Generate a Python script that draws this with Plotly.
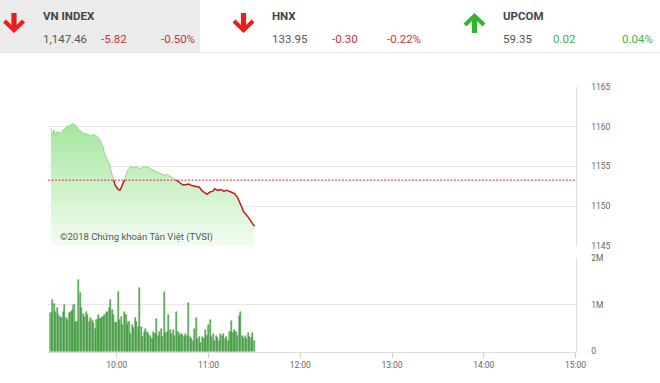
import plotly.graph_objects as go
import pandas as pd
import numpy as np

# ---------------- data ----------------
DAY = "2018-01-02 "
index_names = ["VN INDEX", "HNX", "UPCOM"]
index_values = ["1,147.46", "133.95", "59.35"]
index_changes = ["-5.82", "-0.30", "0.02"]
index_pcts = ["-0.50%", "-0.22%", "0.04%"]
index_up = [False, False, True]

last_value = 1147.46
change = -5.82
prev_close = round(last_value - change, 2)  # reference line

price_times = ["09:17", "09:18", "09:19", "09:20", "09:21", "09:23", "09:25", "09:27", "09:30", "09:31",
               "09:33", "09:34", "09:36", "09:38", "09:40", "09:43", "09:45", "09:47", "09:49", "09:51",
               "09:52", "09:55", "09:57", "09:58", "09:59", "10:01", "10:02", "10:03", "10:05", "10:07",
               "10:09", "10:11", "10:13", "10:15", "10:18", "10:20", "10:22", "10:24", "10:26", "10:29",
               "10:31", "10:33", "10:35", "10:37", "10:39", "10:41", "10:43", "10:45", "10:47", "10:49",
               "10:52", "10:54", "10:56", "10:58", "10:59", "11:01", "11:03", "11:04", "11:06", "11:08",
               "11:10", "11:12", "11:15", "11:17", "11:19", "11:20", "11:21", "11:23", "11:26", "11:28",
               "11:30"]
price_values = [1159.8, 1158.9, 1159.6, 1158.9, 1159.4, 1159.2, 1159.6, 1160.0, 1160.2, 1160.4,
                1160.2, 1159.9, 1159.5, 1159.2, 1159.1, 1158.9, 1159.0, 1158.8, 1158.3, 1157.5,
                1156.6, 1155.4, 1153.9, 1153.28, 1152.6, 1152.1, 1152.0, 1152.4, 1153.28, 1154.5,
                1155.0, 1154.9, 1155.0, 1154.7, 1155.0, 1154.9, 1154.7, 1154.5, 1154.3, 1154.0,
                1153.9, 1154.0, 1153.8, 1153.5, 1153.28, 1153.0, 1152.7, 1152.7, 1152.8, 1152.6,
                1152.5, 1152.4, 1151.9, 1151.6, 1151.5, 1151.8, 1151.9, 1152.2, 1152.0, 1152.1,
                1151.9, 1152.0, 1151.8, 1151.6, 1151.1, 1150.7, 1150.3, 1149.3, 1148.6, 1148.0,
                1147.46]

volume_start = "09:17"
volume_millions = [0.82, 1.11, 1.02, 0.85, 0.93, 0.78, 0.74, 0.71, 0.85, 1.00, 0.72,
                   0.67, 0.82, 0.85, 0.89, 1.00, 0.64, 0.64, 1.53, 1.26, 0.93, 0.80,
                   0.74, 0.85, 0.78, 0.64, 0.71, 0.67, 0.60, 0.49, 0.67, 0.78, 0.70,
                   0.71, 0.74, 0.78, 0.82, 0.85, 0.93, 1.11, 0.89, 0.78, 0.64, 0.60,
                   1.27, 0.67, 0.74, 0.56, 0.85, 0.78, 0.56, 0.64, 0.38, 0.56, 0.50,
                   0.71, 0.64, 0.53, 1.36, 0.53, 0.31, 0.42, 0.49, 0.42, 0.38,
                   0.34, 0.27, 0.42, 0.38, 0.69, 0.34, 0.42, 0.49, 0.31, 1.27, 0.40,
                   0.42, 0.78, 0.45, 0.38, 0.45, 0.34, 0.85, 0.42, 0.34, 0.38, 0.35,
                   0.32, 0.38, 0.34, 1.04, 0.31, 0.27, 0.23, 0.49, 0.71, 0.27, 0.30,
                   0.18, 0.31, 0.27, 0.45, 0.34, 0.56, 0.67, 0.31, 0.38, 0.23, 0.33,
                   0.29, 0.23, 0.38, 0.34, 0.38, 0.27, 0.32, 0.23, 0.42, 0.66, 0.40,
                   0.45, 0.42, 0.34, 0.76, 0.85, 0.34, 0.29, 0.34, 0.27, 0.39, 0.31,
                   0.29, 0.39, 0.23]

session_start, session_end = "09:15", "15:00"
hour_ticks = ["10:00", "11:00", "12:00", "13:00", "14:00", "15:00"]
price_ticks = [1145, 1150, 1155, 1160, 1165]
volume_ticks = [0, 1e6, 2e6]
volume_ticktext = ["0", "1M", "2M"]
watermark = "©2018 Chứng khoán Tân Việt (TVSI)"

# ---------------- helpers ----------------
W, H = 660, 383
def px(x):
    return x / W
def py(y):
    return 1 - y / H

pt = pd.to_datetime([DAY + t for t in price_times])
pv = np.array(price_values)
vt = pd.date_range(DAY + volume_start, periods=len(volume_millions), freq="min")
vv = np.array(volume_millions) * 1e6

red_y = np.where(pv <= prev_close + 0.01, pv, np.nan)

fig = go.Figure()

fig.add_trace(go.Scatter(
    x=pt, y=pv, mode="lines", fill="tozeroy",
    line=dict(color="#92d98c", width=1),
    fillgradient=dict(type="vertical", start=1145, stop=1160.5,
                      colorscale=[[0, "#f3fcf2"], [1, "#a3e69c"]]),
    xaxis="x", yaxis="y", hoverinfo="skip", showlegend=False))

fig.add_trace(go.Scatter(
    x=pt, y=red_y, mode="lines", connectgaps=False,
    line=dict(color="#c81e1e", width=1.5),
    xaxis="x", yaxis="y", hoverinfo="skip", showlegend=False))

fig.add_trace(go.Bar(
    x=vt, y=vv, width=45000,
    marker=dict(color="#7cc87a", line=dict(color="#1f7d1f", width=0.5)),
    xaxis="x2", yaxis="y2", showlegend=False))

x_range = [DAY + session_start, DAY + session_end]

fig.add_shape(type="line", xref="x", yref="y", x0=x_range[0], x1=x_range[1],
              y0=prev_close, y1=prev_close,
              line=dict(color="#d33a3a", width=1, dash="2px,1.5px"))

# header
shapes = []
shapes.append(dict(type="rect", xref="paper", yref="paper", x0=px(0), x1=px(200),
                   y0=py(52), y1=py(0), fillcolor="#ebebeb", line=dict(width=0), layer="below"))
shapes.append(dict(type="line", xref="paper", yref="paper", x0=px(0), x1=px(660),
                   y0=py(52.5), y1=py(52.5), line=dict(color="#e2e2e2", width=1)))

def arrow_path(cx, up):
    pts = [(0, 33), (11, 22.5), (8, 19.5), (2.6, 25), (2.6, 13), (-2.6, 13), (-2.6, 25),
           (-8, 19.5), (-11, 22.5)]
    if up:
        pts = [(dx, 46 - dy) for dx, dy in pts]
    return "M " + " L ".join(f"{px(cx + dx):.5f},{py(dy):.5f}" for dx, dy in pts) + " Z"

arrow_x = [14, 243.5, 474.5]
text_x = [40.5, 270, 501]
chg_x = [99, 330, 551]
pct_x = [159, 385, 620]
annotations = []
for i, name in enumerate(index_names):
    col = "#2fb52f" if index_up[i] else "#ee1b1b"
    shapes.append(dict(type="path", xref="paper", yref="paper", path=arrow_path(arrow_x[i], index_up[i]),
                       fillcolor=col, line=dict(width=0)))
    tcol = "#4cae4c" if index_up[i] else "#cc3333"
    annotations.append(dict(x=px(text_x[i]), y=py(16), text=f"<b>{name}</b>",
                            font=dict(size=11.5, color="#444444", family="Roboto")))
    annotations.append(dict(x=px(text_x[i]), y=py(38.5), text=index_values[i],
                            font=dict(size=11.5, color="#555555", family="Roboto")))
    annotations.append(dict(x=px(chg_x[i]), y=py(38.5), text=index_changes[i],
                            font=dict(size=11.5, color=tcol, family="Roboto")))
    annotations.append(dict(x=px(pct_x[i]), y=py(38.5), text=index_pcts[i],
                            font=dict(size=11.5, color=tcol, family="Roboto")))

annotations.append(dict(x=px(58), y=py(237), text=watermark,
                        font=dict(size=9.5, color="#555555", family="Roboto")))
for a in annotations:
    a.update(xref="paper", yref="paper", xanchor="left", yanchor="middle", showarrow=False)

tickfont = dict(size=8.5, color="#666666", family="Roboto")
fig.update_layout(
    autosize=True, margin=dict(l=0, r=0, t=0, b=0, autoexpand=False),
    paper_bgcolor="white", plot_bgcolor="white",
    shapes=fig.layout.shapes + tuple(shapes), annotations=annotations,
    bargap=0,
    xaxis=dict(domain=[px(48), px(575.5)], anchor="y", type="date", range=x_range,
               showticklabels=False, showgrid=False, zeroline=False, showline=False, ticks=""),
    yaxis=dict(domain=[py(246), py(87)], anchor="x", side="right", range=[1145, 1165],
               tickvals=price_ticks, gridcolor="#e6e6e6", gridwidth=1, zeroline=False,
               showline=True, linecolor="#dedede", ticks="", ticklabelstandoff=13, tickfont=tickfont),
    xaxis2=dict(domain=[px(48), px(575.5)], anchor="y2", type="date", range=x_range,
                tickvals=[DAY + t for t in hour_ticks], ticktext=hour_ticks,
                showgrid=False, zeroline=False, showline=True, linecolor="#dedede",
                ticks="outside", ticklen=5, tickcolor="#cfcfcf", tickfont=tickfont),
    yaxis2=dict(domain=[py(351.5), py(258)], anchor="x2", side="right", range=[0, 2e6],
                tickvals=volume_ticks, ticktext=volume_ticktext, gridcolor="#e6e6e6",
                zeroline=False, showline=True, linecolor="#dedede", ticks="",
                ticklabelstandoff=13, tickfont=tickfont),
)

fig.write_html("out.html", config={"displayModeBar": False, "responsive": True},
               default_width="100vw", default_height="100vh",
               post_script="document.documentElement.style.overflow='hidden';"
                           "document.body.style.margin='0';document.body.style.overflow='hidden';")
